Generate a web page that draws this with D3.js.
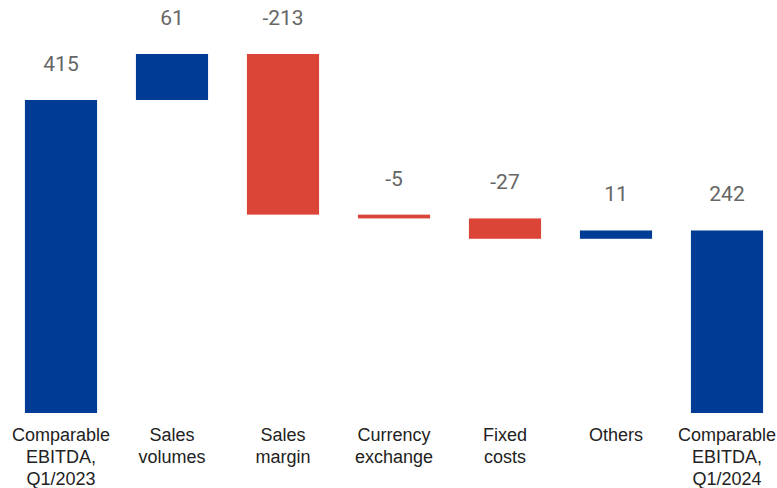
<!DOCTYPE html>
<html><head><meta charset="utf-8">
<script src="https://cdn.jsdelivr.net/npm/d3@7"></script>
<style>html,body{margin:0;padding:0;background:#fff;}svg{display:block;}</style>
</head><body>
<svg id="chart" width="777" height="488"></svg>
<script>
const categories = [["Comparable","EBITDA,","Q1/2023"],["Sales","volumes"],["Sales","margin"],["Currency","exchange"],["Fixed","costs"],["Others"],["Comparable","EBITDA,","Q1/2024"]];
const values = [415, 61, -213, -5, -27, 11, 242];
const isTotal = [true, false, false, false, false, false, true];
const valueLabels = ["415","61","-213","-5","-27","11","242"];

const blue = "#003c96", red = "#db4538";
const svg = d3.select("#chart");
const x = d3.scaleBand().domain(d3.range(values.length)).range([5.5, 782.5]).paddingInner(0.35).paddingOuter(0.175);
const y = d3.scaleLinear().domain([0, 415]).range([413, 100]);

let running = 0;
const bars = values.map((v, i) => {
  let start, end;
  if (isTotal[i]) { start = 0; end = v; running = v; }
  else { start = running; end = running + v; running = end; }
  return {i, v, start, end, color: (v < 0 ? red : blue)};
});

svg.selectAll("rect.bar").data(bars).enter().append("rect")
  .attr("x", d => x(d.i))
  .attr("width", x.bandwidth())
  .attr("y", d => y(Math.max(d.start, d.end)))
  .attr("height", d => Math.abs(y(d.start) - y(d.end)))
  .attr("fill", d => d.color);

svg.selectAll("text.val").data(bars).enter().append("text")
  .attr("x", d => x(d.i) + x.bandwidth()/2)
  .attr("y", d => y(Math.max(d.start, d.end)) - 29)
  .attr("text-anchor", "middle")
  .attr("font-family", "Roboto, sans-serif")
  .attr("font-size", 21)
  .attr("fill", "#666")
  .text(d => valueLabels[d.i]);

const cat = svg.selectAll("g.cat").data(categories).enter().append("text")
  .attr("text-anchor", "middle")
  .attr("font-family", "'Liberation Sans', Arial, sans-serif")
  .attr("font-size", 18)
  .attr("fill", "#222");
cat.each(function(lines, i) {
  d3.select(this).selectAll("tspan").data(lines).enter().append("tspan")
    .attr("x", x(i) + x.bandwidth()/2)
    .attr("y", (d, j) => 441 + j * 22)
    .text(d => d);
});
</script>
</body></html>
